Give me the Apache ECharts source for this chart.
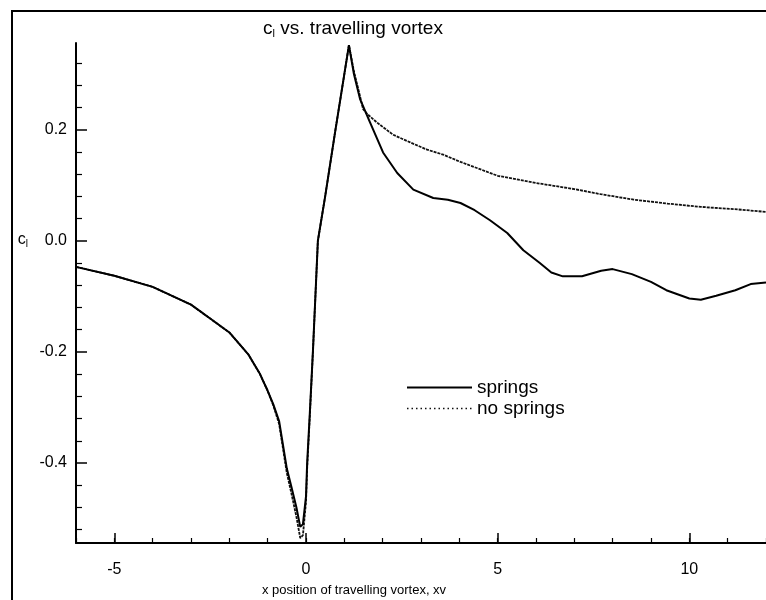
<!DOCTYPE html>
<html>
<head>
<meta charset="utf-8">
<script src="https://cdn.jsdelivr.net/npm/echarts@6/dist/echarts.min.js"></script>
<style>
html,body{margin:0;padding:0;background:#fff;}
#chart{width:766px;height:600px;}
</style>
</head>
<body>
<div id="chart"></div>
<script>
// ---- data ----
const seriesNames = ['springs', 'no springs'];

const xSprings = [-6, -5, -4, -3, -2.5, -2, -1.5, -1.2, -1, -0.85, -0.7, -0.5, -0.37, -0.25, -0.15, -0.08, 0, 0.03, 0.1, 0.18, 0.31, 0.5, 0.76, 1.0, 1.12, 1.25, 1.41, 1.67, 2.01, 2.38, 2.8, 3.32, 3.7, 4.03, 4.4, 4.8, 5.25, 5.67, 6.1, 6.4, 6.7, 7.2, 7.7, 8.0, 8.5, 9.0, 9.4, 10.0, 10.3, 10.7, 11.2, 11.6, 12];
const ySprings = [-0.047, -0.063, -0.083, -0.115, -0.14, -0.165, -0.205, -0.24, -0.27, -0.295, -0.325, -0.41, -0.446, -0.48, -0.515, -0.51, -0.46, -0.4, -0.31, -0.2, 0.0, 0.08, 0.196, 0.3, 0.352, 0.30, 0.255, 0.213, 0.159, 0.122, 0.092, 0.077, 0.074, 0.068, 0.055, 0.037, 0.014, -0.017, -0.04, -0.057, -0.064, -0.064, -0.054, -0.051, -0.06, -0.074, -0.089, -0.104, -0.106, -0.099, -0.089, -0.078, -0.075];

const xNoSprings = [-6, -5, -4, -3, -2.5, -2, -1.5, -1.2, -1, -0.85, -0.7, -0.5, -0.37, -0.25, -0.15, -0.08, 0, 0.03, 0.1, 0.18, 0.31, 0.5, 0.76, 1.0, 1.12, 1.25, 1.41, 1.49, 1.6, 1.85, 2.27, 2.72, 3.16, 3.58, 4.03, 5.0, 6.0, 7.0, 7.68, 8.55, 9.43, 10.3, 11.17, 12];
const yNoSprings = [-0.047, -0.063, -0.083, -0.115, -0.14, -0.165, -0.205, -0.24, -0.27, -0.297, -0.33, -0.418, -0.458, -0.497, -0.535, -0.53, -0.47, -0.41, -0.315, -0.2, 0.0, 0.08, 0.196, 0.3, 0.352, 0.305, 0.26, 0.237, 0.228, 0.213, 0.191, 0.177, 0.164, 0.155, 0.142, 0.117, 0.104, 0.093, 0.084, 0.074, 0.067, 0.061, 0.057, 0.052];

const xMajorTicks = [-5, 0, 5, 10];
const yMajorTicks = [-0.4, -0.2, 0.0, 0.2];
const yMinorTicks = [-0.52, -0.48, -0.44, -0.36, -0.32, -0.28, -0.24, -0.16, -0.12, -0.08, -0.04, 0.04, 0.08, 0.12, 0.16, 0.24, 0.28, 0.32];

const pairs = (xs, ys) => xs.map((x, i) => [x, ys[i]]);

const FONT = 'Liberation Sans, Arial, sans-serif';
const chart = echarts.init(document.getElementById('chart'), null, {renderer: 'canvas'});

const gridBox = {left: 76, right: 0, top: 43, bottom: 57, containLabel: false, outerBoundsMode: 'none'};

const option = {
  animation: false,
  backgroundColor: '#ffffff',
  color: ['#000', '#000'],
  textStyle: {fontFamily: FONT, color: '#000'},
  title: {
    text: '{c|c}{s|l}{t| vs. travelling vortex}',
    left: 348, top: 13, textAlign: 'center',
    textStyle: {
      fontWeight: 'normal',
      rich: {
        c: {fontSize: 19, fontFamily: FONT, color: '#000'},
        s: {fontSize: 11, fontFamily: FONT, color: '#000', padding: [10, 0, 0, 0]},
        t: {fontSize: 19, fontFamily: FONT, color: '#000'}
      }
    }
  },
  legend: {
    orient: 'vertical',
    left: 406, top: 378, padding: 0,
    itemWidth: 65, itemHeight: 10, itemGap: 2,
    itemStyle: {opacity: 0},
    textStyle: {fontSize: 19, fontFamily: FONT, color: '#000', padding: [0, 0, 0, 0]},
    data: [
      {name: seriesNames[0]},
      {name: seriesNames[1], lineStyle: {type: [1.5, 3], width: 1.5}}
    ]
  },
  grid: [Object.assign({}, gridBox), Object.assign({}, gridBox)],
  xAxis: [
    {
      type: 'value', gridIndex: 0, min: -6, max: 12, interval: 1,
      name: 'x position of travelling vortex, xv',
      nameLocation: 'middle', nameGap: 41,
      nameTextStyle: {fontSize: 13, fontFamily: FONT, color: '#000', padding: [0, 134, 0, 0]},
      axisLine: {show: true, onZero: false, lineStyle: {color: '#000', width: 2}},
      axisTick: {show: true, inside: true, length: 5, lineStyle: {color: '#000', width: 1.2}},
      axisLabel: {show: true, fontSize: 16, fontFamily: FONT, color: '#000', margin: 19, customValues: xMajorTicks,
                  formatter: v => String(v)},
      splitLine: {show: false}
    },
    {
      type: 'value', gridIndex: 1, min: -6, max: 12, position: 'bottom',
      axisLine: {show: false, onZero: false},
      axisTick: {show: true, inside: true, length: 10, lineStyle: {color: '#000', width: 1.5}, customValues: xMajorTicks},
      axisLabel: {show: false},
      splitLine: {show: false}
    }
  ],
  yAxis: [
    {
      type: 'value', gridIndex: 0, min: -0.544, max: 0.356,
      name: '{c|c}{s|l}',
      nameLocation: 'middle', nameRotate: 0, nameGap: 48,
      nameTextStyle: {
        padding: [0, 0, 106, 0],
        rich: {
          c: {fontSize: 16, fontFamily: FONT, color: '#000'},
          s: {fontSize: 10, fontFamily: FONT, color: '#000', padding: [8, 0, 0, 0]}
        }
      },
      axisLine: {show: true, onZero: false, lineStyle: {color: '#000', width: 2}},
      axisTick: {show: true, inside: true, length: 11, lineStyle: {color: '#000', width: 1.5}, customValues: yMajorTicks},
      axisLabel: {show: true, fontSize: 16, fontFamily: FONT, color: '#000', margin: 9, customValues: yMajorTicks,
                  formatter: v => v.toFixed(1)},
      splitLine: {show: false}
    },
    {
      type: 'value', gridIndex: 0, min: -0.544, max: 0.356, position: 'left',
      axisLine: {show: false, onZero: false},
      axisTick: {show: true, inside: true, length: 6, lineStyle: {color: '#000', width: 1.2}, customValues: yMinorTicks},
      axisLabel: {show: false},
      splitLine: {show: false}
    },
    {
      type: 'value', gridIndex: 1, min: -0.544, max: 0.356, position: 'left',
      axisLine: {show: false, onZero: false},
      axisTick: {show: false},
      axisLabel: {show: false},
      splitLine: {show: false}
    }
  ],
  series: [
    {
      name: seriesNames[1], type: 'line', xAxisIndex: 0, yAxisIndex: 0,
      symbol: 'none', smooth: false,
      itemStyle: {color: '#000'},
      lineStyle: {color: '#111', width: 1.8, type: [3, 1]},
      data: pairs(xNoSprings, yNoSprings), z: 2
    },
    {
      name: seriesNames[0], type: 'line', xAxisIndex: 0, yAxisIndex: 0,
      symbol: 'none', smooth: false,
      itemStyle: {color: '#000'},
      lineStyle: {color: '#000', width: 2, type: 'solid'},
      data: pairs(xSprings, ySprings), z: 3
    }
  ],
  graphic: [
    {
      type: 'rect', silent: true, z: -1,
      shape: {x: 12, y: 11, width: 800, height: 700},
      style: {fill: null, stroke: '#000', lineWidth: 2}
    }
  ]
};
chart.setOption(option);
</script>
</body>
</html>
